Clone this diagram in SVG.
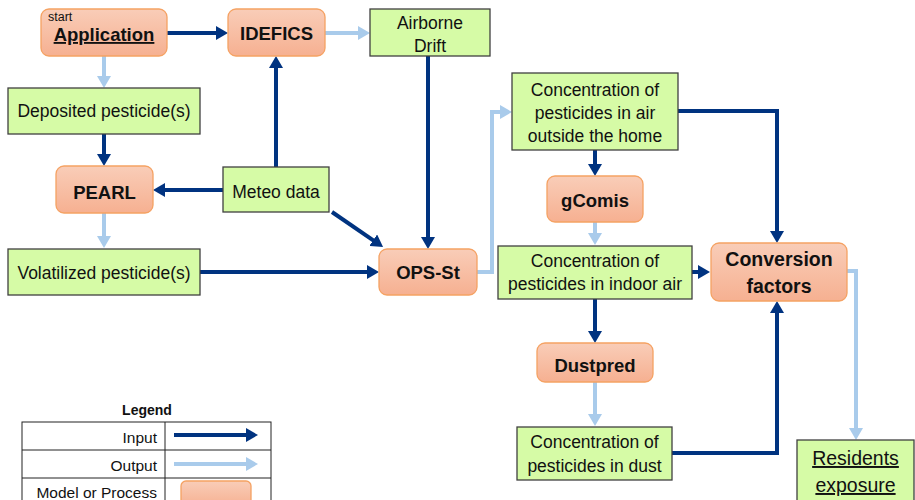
<svg xmlns="http://www.w3.org/2000/svg" width="915" height="500" viewBox="0 0 915 500">
<defs>
<linearGradient id="og" x1="0" y1="0" x2="0" y2="1">
<stop offset="0" stop-color="#f9cdb8"/>
<stop offset="1" stop-color="#f6b091"/>
</linearGradient>
<marker id="ad" markerUnits="userSpaceOnUse" markerWidth="13" markerHeight="14" refX="1" refY="7" orient="auto">
<path d="M0,0 L12,7 L0,14 z" fill="#003380"/>
</marker>
<marker id="al" markerUnits="userSpaceOnUse" markerWidth="13" markerHeight="14" refX="1" refY="7" orient="auto">
<path d="M0,0 L12,7 L0,14 z" fill="#a9cbeb"/>
</marker>
<style>
.m{fill:url(#og);stroke:#f5a263;stroke-width:1.3}
.d{fill:#d6fba6;stroke:#404040;stroke-width:1.3}
.t{font-family:"Liberation Sans",Arial,sans-serif;font-size:17.5px;fill:#111;text-anchor:middle}
.b{font-family:"Liberation Sans",Arial,sans-serif;font-size:18.5px;font-weight:bold;fill:#111;text-anchor:middle}
.in{fill:none;stroke:#003380;stroke-width:4;marker-end:url(#ad)}
.out{fill:none;stroke:#a9cbeb;stroke-width:4;marker-end:url(#al)}
.lg{font-family:"Liberation Sans",Arial,sans-serif;font-size:15.5px;fill:#111;text-anchor:end}
</style>
</defs>
<rect width="915" height="500" fill="#fff"/>

<g id="connectors">
<path class="in" d="M167,33 H217"/>
<path class="in" d="M104,134 V155"/>
<path class="in" d="M223,190 H164"/>
<path class="in" d="M276,167 V67"/>
<path class="in" d="M332,212 L374,240.8"/>
<path class="in" d="M200,272 H368"/>
<path class="in" d="M428,56 V238"/>
<path class="in" d="M595,150 V165"/>
<path class="in" d="M678,111 H777 V232"/>
<path class="in" d="M692,272 H699"/>
<path class="in" d="M595,299 V332"/>
<path class="in" d="M672,453 H777 V312"/>
<path class="out" d="M104,56 V77"/>
<path class="out" d="M325,33 H359"/>
<path class="out" d="M104,213 V237"/>
<path class="out" d="M477,272 H492 V112 H501"/>
<path class="out" d="M595,222 V234"/>
<path class="out" d="M595,382 V415"/>
<path class="out" d="M847,271 H856 V429"/>
</g>

<g id="application">
<rect class="m" x="41" y="9" width="126" height="47" rx="8"/>
<text x="48" y="21" style="font-family:'Liberation Sans',Arial,sans-serif;font-size:12.5px;fill:#111">start</text>
<text class="b" x="104" y="41" text-decoration="underline">Application</text>
</g>
<g id="idefics">
<rect class="m" x="228" y="9" width="97" height="47" rx="8"/>
<text class="b" x="276.5" y="40">IDEFICS</text>
</g>
<g id="airborne-drift">
<rect class="d" x="370" y="9" width="120" height="47"/>
<text class="t" x="430" y="29">Airborne</text>
<text class="t" x="430" y="52">Drift</text>
</g>
<g id="deposited">
<rect class="d" x="8" y="88" width="192" height="46"/>
<text class="t" x="104" y="117">Deposited pesticide(s)</text>
</g>
<g id="pearl">
<rect class="m" x="56" y="166" width="97" height="47" rx="8"/>
<text class="b" x="104.5" y="199">PEARL</text>
</g>
<g id="meteo">
<rect class="d" x="223" y="167" width="106" height="45"/>
<text class="t" x="276" y="198">Meteo data</text>
</g>
<g id="volatilized">
<rect class="d" x="8" y="249" width="192" height="46"/>
<text class="t" x="104" y="279">Volatilized pesticide(s)</text>
</g>
<g id="ops-st">
<rect class="m" x="379" y="249" width="98" height="46" rx="8"/>
<text class="b" x="428" y="279">OPS-St</text>
</g>
<g id="conc-outside">
<rect class="d" x="512" y="73" width="166" height="77"/>
<text class="t" x="595" y="96">Concentration of</text>
<text class="t" x="595" y="119">pesticides in air</text>
<text class="t" x="595" y="142">outside the home</text>
</g>
<g id="gcomis">
<rect class="m" x="547" y="176" width="96" height="46" rx="8"/>
<text class="b" x="595" y="207">gComis</text>
</g>
<g id="conc-indoor">
<rect class="d" x="498" y="246" width="194" height="53"/>
<text class="t" x="595" y="267">Concentration of</text>
<text class="t" x="595" y="290">pesticides in indoor air</text>
</g>
<g id="conversion">
<rect class="m" x="711" y="243" width="136" height="58" rx="8"/>
<text class="b" x="779" y="266" style="font-size:19.5px">Conversion</text>
<text class="b" x="779" y="293" style="font-size:19.5px">factors</text>
</g>
<g id="dustpred">
<rect class="m" x="537" y="343" width="116" height="39" rx="8"/>
<text class="b" x="595" y="372">Dustpred</text>
</g>
<g id="conc-dust">
<rect class="d" x="517" y="427" width="155" height="53"/>
<text class="t" x="594.5" y="448">Concentration of</text>
<text class="t" x="594.5" y="472">pesticides in dust</text>
</g>
<g id="residents">
<rect class="d" x="797" y="440" width="117" height="64"/>
<text class="t" x="855.5" y="465" style="font-size:19.5px" text-decoration="underline">Residents</text>
<text class="t" x="855.5" y="492" style="font-size:19.5px" text-decoration="underline">exposure</text>
</g>

<g id="legend">
<text x="147" y="415" style="font-family:'Liberation Sans',Arial,sans-serif;font-size:14px;font-weight:bold;fill:#111;text-anchor:middle">Legend</text>
<rect x="22" y="422" width="249" height="90" fill="#fff" stroke="#222" stroke-width="1"/>
<line x1="22" y1="450" x2="271" y2="450" stroke="#222" stroke-width="1"/>
<line x1="22" y1="478" x2="271" y2="478" stroke="#222" stroke-width="1"/>
<line x1="165" y1="422" x2="165" y2="512" stroke="#222" stroke-width="1"/>
<text class="lg" x="157" y="443">Input</text>
<text class="lg" x="157" y="471">Output</text>
<text class="lg" x="157" y="498">Model or Process</text>
<path class="in" d="M174,435 H247"/>
<path class="out" d="M174,464 H247"/>
<rect class="m" x="181" y="481" width="70" height="26" rx="5"/>
</g>
</svg>
